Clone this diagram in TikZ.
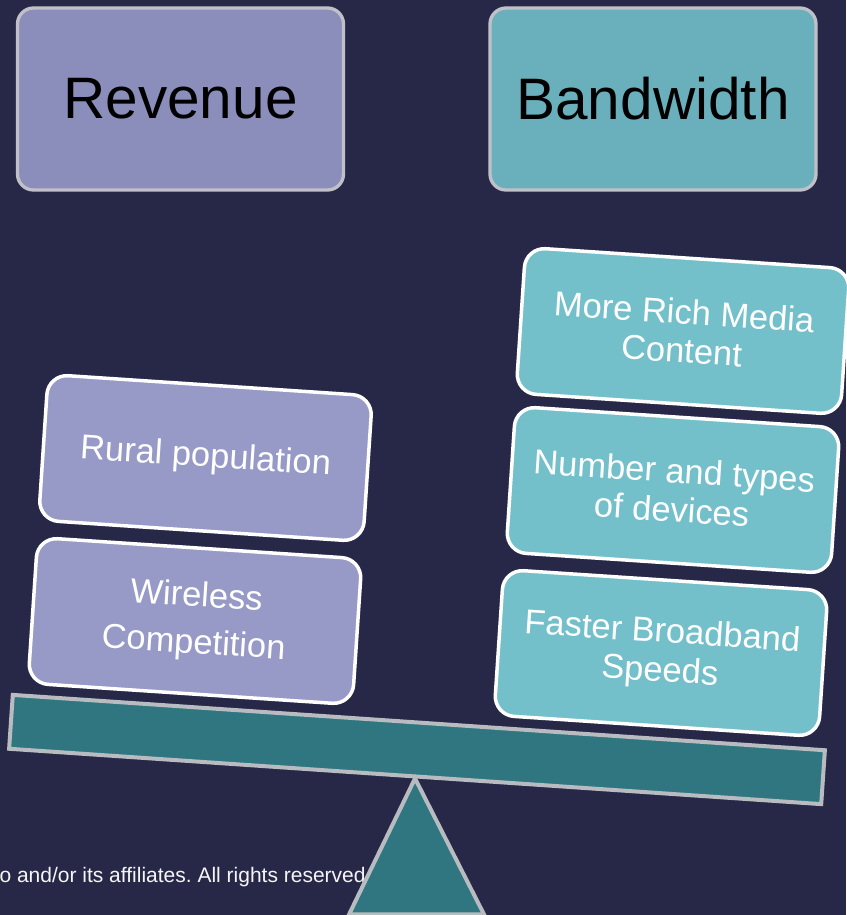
\documentclass[tikz,border=0pt]{standalone}
\usepackage{fontspec}
\setmainfont{Liberation Sans}
\usepackage{xcolor}
\usepackage{tikz}

\definecolor{slidebg}{RGB}{39,40,72}
\definecolor{revfill}{RGB}{139,141,186}
\definecolor{bwfill}{RGB}{106,176,188}
\definecolor{headline}{RGB}{192,193,200}
\definecolor{purpfill}{RGB}{151,153,198}
\definecolor{tealfill}{RGB}{115,192,203}
\definecolor{beamfill}{RGB}{47,118,128}
\definecolor{beamline}{RGB}{184,187,192}

\begin{document}
\frenchspacing
\begin{tikzpicture}[x=1pt,y=-1pt,
  header/.style={draw=headline, line width=3.3pt, rounded corners=16pt, minimum width=326pt, minimum height=182pt, text=black, font=\fontsize{58.5}{68}\selectfont},
  weight/.style={draw=white, line width=3.5pt, rounded corners=20pt, minimum width=325pt, minimum height=146pt, rotate=-3.8, text=white, align=center, font=\fontsize{34.5}{39}\selectfont},
  plank/.style={draw=beamline, fill=beamfill, line width=4pt, minimum width=814pt, minimum height=54pt, inner sep=0pt, rotate=-3.9},
  fulcrum/.style={draw=beamline, fill=beamfill, line width=4pt, line join=miter}]
\useasboundingbox (0,0) rectangle (846,915);
\fill[slidebg] (0,0) rectangle (846,915);

\node[header, fill=revfill] (revenue) at (180.5,99) {Revenue};
\node[header, fill=bwfill] (bandwidth) at (653,99) {Bandwidth};

\node[anchor=base west, text=white!92!gray, font=\fontsize{21}{25}\selectfont] (footer) at (-4,882) {o and/or its affiliates. All rights reserved.};

\node[plank] (beam) at (417,749.5) {};
\draw[fulcrum] (beam.south) -- ++(-66,136) -- ++(135,0) -- cycle;

\node[weight, fill=purpfill] (rural) at (205.5,458) {Rural population};
\node[weight, fill=purpfill, font=\fontsize{34.5}{47}\selectfont] (wireless) at (195,621) {Wireless\\Competition};

\node[weight, fill=tealfill] (media) at (683,331) {More Rich Media\\Content};
\node[weight, fill=tealfill] (devices) at (673,490) {Number and types\\of devices};
\node[weight, fill=tealfill] (speeds) at (661,653) {Faster Broadband\\Speeds};

\end{tikzpicture}
\end{document}
